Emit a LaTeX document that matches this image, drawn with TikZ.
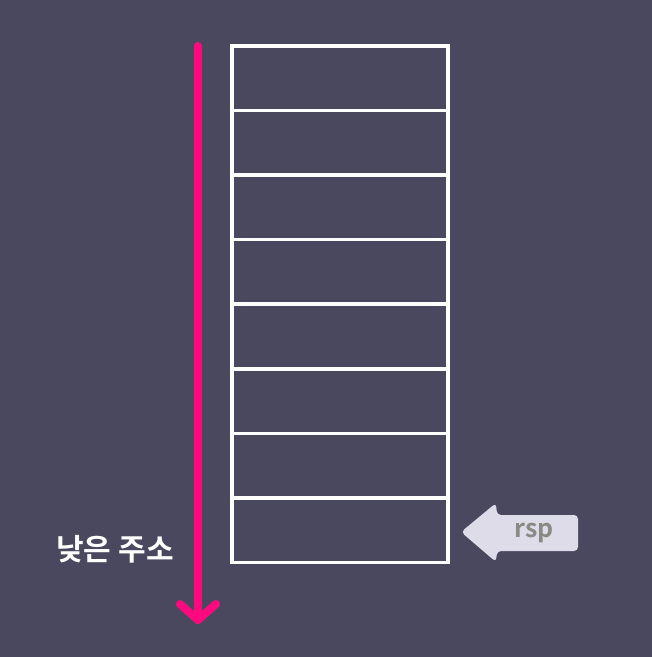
\documentclass[tikz,border=0pt]{standalone}
\usepackage{fontspec}
\newfontfamily\kr{Noto Sans CJK KR}[BoldFont={* Bold}]
\definecolor{bg}{HTML}{4A485E}
\definecolor{pinkline}{HTML}{FF0A7E}
\definecolor{tagfill}{HTML}{DDDCE8}
\definecolor{taggray}{HTML}{8A8A84}
\begin{document}
\begin{tikzpicture}[x=1pt,y=-1pt,
  cell/.style={draw=white,line width=3.5pt,minimum width=216pt,minimum height=64.6pt,inner sep=0pt,anchor=north west},
  lbl/.style={text=white,font=\kr\bfseries\fontsize{30}{34}\selectfont}]
\fill[bg] (0,0) rectangle (652,657);
\useasboundingbox (0,0) rectangle (652,657);
\foreach \i in {0,...,7}{
  \node[cell] (c\i) at (230,{44+64.6*\i}) {};
}
\coordinate (top) at (198,46);
\coordinate (bot) at (198,620);
\draw[pinkline,line width=8pt,line cap=round] (top) -- (bot);
\draw[pinkline,line width=8pt,line cap=round,line join=round] (180,604) -- (bot) -- (216,604);
\node[lbl] (low) at (115,549) {낮은 주소};
\fill[tagfill,rounded corners=4pt] (461,532) -- (496,503) -- (497,515) -- (578,515) -- (578,551) -- (497,551) -- (496,562) -- cycle;
\node[text=taggray,font=\kr\bfseries\fontsize{25}{30}\selectfont] (rsp) at (534,533) {rsp};
\end{tikzpicture}
\end{document}
